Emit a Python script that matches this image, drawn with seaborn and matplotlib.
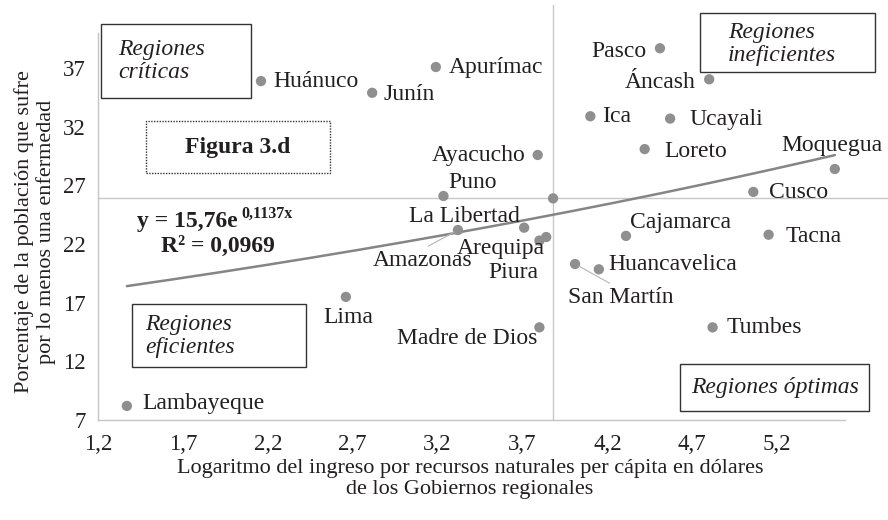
import numpy as np
import pandas as pd
import seaborn as sns
import matplotlib
matplotlib.use("Agg")
import matplotlib.pyplot as plt
from matplotlib.patches import Rectangle

# ---------------- data ----------------
regions = ["Huánuco", "Junín", "Apurímac", "Pasco", "Áncash", "Ica", "Ucayali",
           "Loreto", "Ayacucho", "Moquegua", "Cusco", "Puno", "La Libertad",
           "Amazonas", "Arequipa", "Piura", "Cajamarca", "Tacna", "San Martín",
           "Huancavelica", "Madre de Dios", "Tumbes", "Lima", "Lambayeque"]
log_income = [2.16, 2.815, 3.19, 4.51, 4.80, 4.10, 4.57,
              4.42, 3.79, 5.54, 5.06, 3.235, 3.71,
              3.32, 3.84, 3.80, 4.31, 5.15, 4.01,
              4.15, 3.80, 4.82, 2.66, 1.37]
pct_ill = [35.9, 34.9, 37.1, 38.7, 36.05, 32.9, 32.7,
           30.1, 29.6, 28.4, 26.45, 26.1, 23.4,
           23.2, 22.6, 22.3, 22.7, 22.8, 20.3,
           19.85, 14.9, 14.9, 17.5, 8.2]
trend_a = 15.76
trend_b = 0.1137
x_ticks = [1.2, 1.7, 2.2, 2.7, 3.2, 3.7, 4.2, 4.7, 5.2]
y_ticks = [7, 12, 17, 22, 27, 32, 37]
x_tick_labels = ["1,2", "1,7", "2,2", "2,7", "3,2", "3,7", "4,2", "4,7", "5,2"]
y_tick_labels = ["7", "12", "17", "22", "27", "32", "37"]

# label placement (pixel offsets, alignment)
label_layout = {
    "Huánuco": (12, 0, "left"), "Junín": (11, -2, "left"), "Apurímac": (13, 0, "left"),
    "Pasco": (-13, -3, "right"), "Áncash": (-13, -3, "right"), "Ica": (12, 0, "left"),
    "Ucayali": (19, -1, "left"), "Loreto": (20, -2, "left"), "Ayacucho": (-12, -1, "right"),
    "Moquegua": (-3, 24, "center"), "Cusco": (16, -1, "left"), "Puno": (29, 14, "center"),
    "La Libertad": (-4, 11, "right"), "Amazonas": (14, -30, "right"),
    "Arequipa": (-1, -11, "right"), "Piura": (-1, -32, "right"),
    "Cajamarca": (4, 13, "left"), "Tacna": (17, -2, "left"),
    "San Martín": (-7, -33, "left"), "Huancavelica": (10, 5, "left"),
    "Madre de Dios": (-2, -11, "right"), "Tumbes": (14, 0, "left"),
    "Lima": (2, -21, "center"), "Lambayeque": (15, 2, "left"),
}
leaders = {"Amazonas": (0.5, 1.0), "San Martín": (0.45, 1.0)}

df = pd.DataFrame({"region": regions, "x": log_income, "y": pct_ill})
x_mean = df["x"].mean()
y_mean = df["y"].mean()

# ---------------- style ----------------
sns.set_theme(style="white")
plt.rcParams["font.family"] = ["Liberation Serif", "DejaVu Serif"]
TXT = "#231f20"
GREY = "#8f8f8f"
LBL = 17
BOX = 17

W, H = 888, 520
fig = plt.figure(figsize=(W / 100, H / 100), dpi=100)
ax = fig.add_axes([98 / W, 100 / H, 747 / W, 387 / H])

def fx(px):
    return px / W

def fy(py):
    return 1 - py / H

# reference lines (means)
ax.axhline(y_mean, xmin=0, xmax=(888 - 98) / 747, color="#c8c8c8", lw=1, zorder=1, clip_on=False)
ax.axvline(x_mean, ymin=0, ymax=(420 - 5) / 387, color="#c8c8c8", lw=1, zorder=1, clip_on=False)

# trend line
xs = np.linspace(df["x"].min(), df["x"].max(), 200)
trend = pd.DataFrame({"x": xs, "y": trend_a * np.exp(trend_b * xs)})
sns.lineplot(data=trend, x="x", y="y", color="#858585", lw=1.8, ax=ax, zorder=2)

# points
sns.scatterplot(data=df, x="x", y="y", color=GREY, s=55, edgecolor="none", ax=ax, zorder=3, legend=False)
sns.scatterplot(x=[x_mean], y=[y_mean], color=GREY, s=55, edgecolor="none", ax=ax, zorder=3, legend=False)

# labels
for r, xv, yv in zip(df["region"], df["x"], df["y"]):
    dx, dy, ha = label_layout[r]
    kw = {}
    if r in leaders:
        kw["arrowprops"] = dict(arrowstyle="-", color="#b5b5b5", lw=0.8,
                                relpos=leaders[r], shrinkA=0, shrinkB=3)
    ax.annotate(r, xy=(xv, yv), xytext=(dx, dy), textcoords="offset pixels",
                ha=ha, va="center", fontsize=LBL, color=TXT, zorder=4, **kw)

ax.set_xlim(1.2, 5.6)
ax.set_ylim(7, 40)
ax.set_xticks(x_ticks)
ax.set_xticklabels(x_tick_labels)
ax.set_yticks(y_ticks)
ax.set_yticklabels(y_tick_labels)
ax.tick_params(axis="both", length=0, labelsize=16.5, colors=TXT)
ax.tick_params(axis="x", pad=10)
ax.tick_params(axis="y", pad=9)
ax.set_xlabel("")
ax.set_ylabel("")
for s in ["top", "right"]:
    ax.spines[s].set_visible(False)
for s in ["left", "bottom"]:
    ax.spines[s].set_color("#c4c4c4")
    ax.spines[s].set_linewidth(1)

# axis titles
fig.text(fx(470), fy(479), "Logaritmo del ingreso por recursos naturales per cápita en dólares\nde los Gobiernos regionales",
         ha="center", va="center", fontsize=16, color=TXT, linespacing=1.2)
fig.text(fx(35), fy(232), "Porcentaje de la población que sufre\npor lo menos una enfermedad",
         ha="center", va="center", rotation=90, fontsize=16, color=TXT, linespacing=1.12)

# boxes
def box(x0, y0, x1, y1, ls="-"):
    fig.patches.append(Rectangle((fx(x0), fy(y1)), fx(x1) - fx(x0), fy(y0) - fy(y1),
                                 transform=fig.transFigure, fill=False, edgecolor="#333333",
                                 lw=1.0, linestyle=ls, zorder=5))

box(101, 24, 251, 98)
fig.text(fx(118), fy(61), "Regiones\ncríticas", ha="left", va="center", fontsize=BOX,
         style="italic", color=TXT, linespacing=1.1)
box(700, 13, 875, 72)
fig.text(fx(728), fy(44), "Regiones\nineficientes", ha="left", va="center", fontsize=BOX,
         style="italic", color=TXT, linespacing=1.1)
box(132, 304, 306, 367)
fig.text(fx(145), fy(336), "Regiones\neficientes", ha="left", va="center", fontsize=BOX,
         style="italic", color=TXT, linespacing=1.1)
box(680, 364, 869, 411)
fig.text(fx(775), fy(387), "Regiones óptimas", ha="center", va="center", fontsize=BOX,
         style="italic", color=TXT)
box(146, 121, 330, 173, ls=(0, (1, 1)))
fig.text(fx(238), fy(147), "Figura 3.d", ha="center", va="center", fontsize=BOX,
         weight="bold", color=TXT)

# equation
eq = fig.text(fx(137), fy(222), "y = 15,76e", ha="left", va="center", fontsize=BOX,
              weight="bold", color=TXT)
fig.canvas.draw()
bb = eq.get_window_extent(renderer=fig.canvas.get_renderer())
fig.text((bb.x1 + 4) / W, fy(214), "0,1137x", ha="left", va="center", fontsize=11.5,
         weight="bold", color=TXT)
fig.text(fx(218), fy(246), "R² = 0,0969", ha="center", va="center", fontsize=BOX,
         weight="bold", color=TXT)

fig.savefig("out.png", dpi=100)
